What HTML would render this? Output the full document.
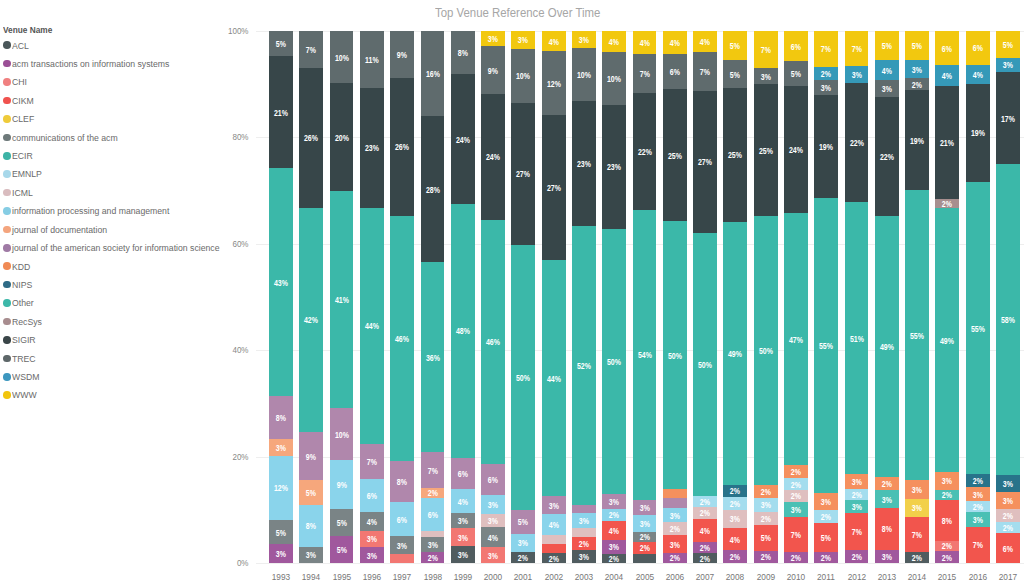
<!DOCTYPE html>
<html><head><meta charset="utf-8"><style>
html,body{margin:0;padding:0;background:#fff;}
body{width:1024px;height:585px;position:relative;overflow:hidden;font-family:"Liberation Sans",sans-serif;}
.s{position:absolute;}
.l{position:absolute;height:12px;line-height:12px;text-align:center;color:#fff;font-weight:bold;font-size:8.5px;transform:scaleX(0.82);}
.xl{position:absolute;top:570px;height:14px;line-height:14px;text-align:center;color:#777;font-size:9.9px;transform:scaleX(0.84);}
.g{position:absolute;left:256px;width:768px;height:1px;background:#eee;}
.yl{position:absolute;left:200px;width:48.5px;text-align:right;height:14px;line-height:14px;color:#888;font-size:9.8px;transform:scaleX(0.82);transform-origin:right center;}
.lc{position:absolute;left:3.3px;width:7.6px;height:7.6px;border-radius:50%;}
.lt{position:absolute;left:12px;height:14px;line-height:14px;color:#6a6a6a;font-size:9.6px;white-space:nowrap;transform:scaleX(0.905);transform-origin:left center;}
.hd{position:absolute;left:2.8px;top:23px;height:14px;line-height:14px;color:#555;font-weight:bold;font-size:9px;white-space:nowrap;transform:scaleX(0.92);transform-origin:left center;}
.title{position:absolute;left:434.6px;top:3.9px;height:18px;line-height:18px;color:#a6a6a6;font-size:12.3px;white-space:nowrap;transform:scaleX(0.927);transform-origin:left center;}
</style></head><body>
<div class="title">Top Venue Reference Over Time</div>
<div class="hd">Venue Name</div>
<div class="lc" style="top:41.40px;background:#4B575A"></div><div class="lt" style="top:38.50px">ACL</div><div class="lc" style="top:59.82px;background:#9B4F96"></div><div class="lt" style="top:56.92px">acm transactions on information systems</div><div class="lc" style="top:78.24px;background:#F08080"></div><div class="lt" style="top:75.34px">CHI</div><div class="lc" style="top:96.66px;background:#F0524E"></div><div class="lt" style="top:93.76px">CIKM</div><div class="lc" style="top:115.08px;background:#EFCB3A"></div><div class="lt" style="top:112.18px">CLEF</div><div class="lc" style="top:133.50px;background:#6E797A"></div><div class="lt" style="top:130.60px">communications of the acm</div><div class="lc" style="top:151.92px;background:#3DB3A6"></div><div class="lt" style="top:149.02px">ECIR</div><div class="lc" style="top:170.34px;background:#A8D8EA"></div><div class="lt" style="top:167.44px">EMNLP</div><div class="lc" style="top:188.76px;background:#D9BCBF"></div><div class="lt" style="top:185.86px">ICML</div><div class="lc" style="top:207.18px;background:#86CDE4"></div><div class="lt" style="top:204.28px">information processing and management</div><div class="lc" style="top:225.60px;background:#F4A57E"></div><div class="lt" style="top:222.70px">journal of documentation</div><div class="lc" style="top:244.02px;background:#9F7AA5"></div><div class="lt" style="top:241.12px">journal of the american society for information science</div><div class="lc" style="top:262.44px;background:#F08A55"></div><div class="lt" style="top:259.54px">KDD</div><div class="lc" style="top:280.86px;background:#2F6B86"></div><div class="lt" style="top:277.96px">NIPS</div><div class="lc" style="top:299.28px;background:#3DB8A9"></div><div class="lt" style="top:296.38px">Other</div><div class="lc" style="top:317.70px;background:#A88D8F"></div><div class="lt" style="top:314.80px">RecSys</div><div class="lc" style="top:336.12px;background:#3A4548"></div><div class="lt" style="top:333.22px">SIGIR</div><div class="lc" style="top:354.54px;background:#5E6769"></div><div class="lt" style="top:351.64px">TREC</div><div class="lc" style="top:372.96px;background:#3D97BF"></div><div class="lt" style="top:370.06px">WSDM</div><div class="lc" style="top:391.38px;background:#F1C50E"></div><div class="lt" style="top:388.48px">WWW</div>
<div class="g" style="top:31.00px"></div><div class="yl" style="top:24.00px">100%</div><div class="g" style="top:137.40px"></div><div class="yl" style="top:130.40px">80%</div><div class="g" style="top:243.80px"></div><div class="yl" style="top:236.80px">60%</div><div class="g" style="top:350.20px"></div><div class="yl" style="top:343.20px">40%</div><div class="g" style="top:456.60px"></div><div class="yl" style="top:449.60px">20%</div><div class="g" style="top:563.00px"></div><div class="yl" style="top:556.00px">0%</div>
<div class="s" style="left:269.10px;top:31.00px;width:23.8px;height:532.30px;background:#5F6B6D"></div><div class="l" style="left:269.10px;top:38.10px;width:23.8px">5%</div><div class="s" style="left:269.10px;top:56.00px;width:23.8px;height:507.30px;background:#374649"></div><div class="l" style="left:269.10px;top:106.60px;width:23.8px">21%</div><div class="s" style="left:269.10px;top:168.00px;width:23.8px;height:395.30px;background:#3BB8A9"></div><div class="l" style="left:269.10px;top:276.73px;width:23.8px">43%</div><div class="s" style="left:269.10px;top:396.25px;width:23.8px;height:167.05px;background:#B087AC"></div><div class="l" style="left:269.10px;top:412.35px;width:23.8px">8%</div><div class="s" style="left:269.10px;top:439.25px;width:23.8px;height:124.05px;background:#F6A77C"></div><div class="l" style="left:269.10px;top:442.10px;width:23.8px">3%</div><div class="s" style="left:269.10px;top:455.75px;width:23.8px;height:107.55px;background:#8AD4EB"></div><div class="l" style="left:269.10px;top:482.48px;width:23.8px">12%</div><div class="s" style="left:269.10px;top:520.00px;width:23.8px;height:43.30px;background:#7A8486"></div><div class="l" style="left:269.10px;top:526.73px;width:23.8px">5%</div><div class="s" style="left:269.10px;top:544.25px;width:23.8px;height:19.05px;background:#A0589D"></div><div class="l" style="left:269.10px;top:548.23px;width:23.8px">3%</div><div class="xl" style="left:261.10px;width:39.8px">1993</div><div class="s" style="left:299.39px;top:31.00px;width:23.8px;height:532.30px;background:#5F6B6D"></div><div class="l" style="left:299.39px;top:44.15px;width:23.8px">7%</div><div class="s" style="left:299.39px;top:68.10px;width:23.8px;height:495.20px;background:#374649"></div><div class="l" style="left:299.39px;top:132.40px;width:23.8px">26%</div><div class="s" style="left:299.39px;top:207.50px;width:23.8px;height:355.80px;background:#3BB8A9"></div><div class="l" style="left:299.39px;top:314.48px;width:23.8px">42%</div><div class="s" style="left:299.39px;top:432.25px;width:23.8px;height:131.05px;background:#B087AC"></div><div class="l" style="left:299.39px;top:450.73px;width:23.8px">9%</div><div class="s" style="left:299.39px;top:480.00px;width:23.8px;height:83.30px;background:#F6A77C"></div><div class="l" style="left:299.39px;top:486.85px;width:23.8px">5%</div><div class="s" style="left:299.39px;top:504.50px;width:23.8px;height:58.80px;background:#8AD4EB"></div><div class="l" style="left:299.39px;top:520.23px;width:23.8px">8%</div><div class="s" style="left:299.39px;top:546.75px;width:23.8px;height:16.55px;background:#7A8486"></div><div class="l" style="left:299.39px;top:549.48px;width:23.8px">3%</div><div class="xl" style="left:291.39px;width:39.8px">1994</div><div class="s" style="left:329.68px;top:31.00px;width:23.8px;height:532.30px;background:#5F6B6D"></div><div class="l" style="left:329.68px;top:51.65px;width:23.8px">10%</div><div class="s" style="left:329.68px;top:83.10px;width:23.8px;height:480.20px;background:#374649"></div><div class="l" style="left:329.68px;top:131.53px;width:23.8px">20%</div><div class="s" style="left:329.68px;top:190.75px;width:23.8px;height:372.55px;background:#3BB8A9"></div><div class="l" style="left:329.68px;top:293.98px;width:23.8px">41%</div><div class="s" style="left:329.68px;top:408.00px;width:23.8px;height:155.30px;background:#B087AC"></div><div class="l" style="left:329.68px;top:428.60px;width:23.8px">10%</div><div class="s" style="left:329.68px;top:460.00px;width:23.8px;height:103.30px;background:#8AD4EB"></div><div class="l" style="left:329.68px;top:478.98px;width:23.8px">9%</div><div class="s" style="left:329.68px;top:508.75px;width:23.8px;height:54.55px;background:#7A8486"></div><div class="l" style="left:329.68px;top:517.10px;width:23.8px">5%</div><div class="s" style="left:329.68px;top:536.25px;width:23.8px;height:27.05px;background:#A0589D"></div><div class="l" style="left:329.68px;top:544.23px;width:23.8px">5%</div><div class="xl" style="left:321.68px;width:39.8px">1995</div><div class="s" style="left:359.97px;top:31.00px;width:23.8px;height:532.30px;background:#5F6B6D"></div><div class="l" style="left:359.97px;top:53.85px;width:23.8px">11%</div><div class="s" style="left:359.97px;top:87.50px;width:23.8px;height:475.80px;background:#374649"></div><div class="l" style="left:359.97px;top:142.10px;width:23.8px">23%</div><div class="s" style="left:359.97px;top:207.50px;width:23.8px;height:355.80px;background:#3BB8A9"></div><div class="l" style="left:359.97px;top:320.10px;width:23.8px">44%</div><div class="s" style="left:359.97px;top:443.50px;width:23.8px;height:119.80px;background:#B087AC"></div><div class="l" style="left:359.97px;top:455.73px;width:23.8px">7%</div><div class="s" style="left:359.97px;top:478.75px;width:23.8px;height:84.55px;background:#8AD4EB"></div><div class="l" style="left:359.97px;top:489.98px;width:23.8px">6%</div><div class="s" style="left:359.97px;top:512.00px;width:23.8px;height:51.30px;background:#7A8486"></div><div class="l" style="left:359.97px;top:515.98px;width:23.8px">4%</div><div class="s" style="left:359.97px;top:530.75px;width:23.8px;height:32.55px;background:#F27772"></div><div class="l" style="left:359.97px;top:533.48px;width:23.8px">3%</div><div class="s" style="left:359.97px;top:547.00px;width:23.8px;height:16.30px;background:#A0589D"></div><div class="l" style="left:359.97px;top:549.60px;width:23.8px">3%</div><div class="xl" style="left:351.97px;width:39.8px">1996</div><div class="s" style="left:390.26px;top:31.00px;width:23.8px;height:532.30px;background:#5F6B6D"></div><div class="l" style="left:390.26px;top:49.10px;width:23.8px">9%</div><div class="s" style="left:390.26px;top:78.00px;width:23.8px;height:485.30px;background:#374649"></div><div class="l" style="left:390.26px;top:141.47px;width:23.8px">26%</div><div class="s" style="left:390.26px;top:215.75px;width:23.8px;height:347.55px;background:#3BB8A9"></div><div class="l" style="left:390.26px;top:332.85px;width:23.8px">46%</div><div class="s" style="left:390.26px;top:460.75px;width:23.8px;height:102.55px;background:#B087AC"></div><div class="l" style="left:390.26px;top:475.98px;width:23.8px">8%</div><div class="s" style="left:390.26px;top:502.00px;width:23.8px;height:61.30px;background:#8AD4EB"></div><div class="l" style="left:390.26px;top:513.73px;width:23.8px">6%</div><div class="s" style="left:390.26px;top:536.25px;width:23.8px;height:27.05px;background:#7A8486"></div><div class="l" style="left:390.26px;top:539.60px;width:23.8px">3%</div><div class="s" style="left:390.26px;top:553.75px;width:23.8px;height:9.55px;background:#F27772"></div><div class="xl" style="left:382.26px;width:39.8px">1997</div><div class="s" style="left:420.55px;top:31.00px;width:23.8px;height:532.30px;background:#5F6B6D"></div><div class="l" style="left:420.55px;top:67.97px;width:23.8px">16%</div><div class="s" style="left:420.55px;top:115.75px;width:23.8px;height:447.55px;background:#374649"></div><div class="l" style="left:420.55px;top:183.60px;width:23.8px">28%</div><div class="s" style="left:420.55px;top:262.25px;width:23.8px;height:301.05px;background:#3BB8A9"></div><div class="l" style="left:420.55px;top:351.73px;width:23.8px">36%</div><div class="s" style="left:420.55px;top:452.00px;width:23.8px;height:111.30px;background:#B087AC"></div><div class="l" style="left:420.55px;top:464.60px;width:23.8px">7%</div><div class="s" style="left:420.55px;top:488.00px;width:23.8px;height:75.30px;background:#F6A77C"></div><div class="l" style="left:420.55px;top:487.35px;width:23.8px">2%</div><div class="s" style="left:420.55px;top:497.50px;width:23.8px;height:65.80px;background:#8AD4EB"></div><div class="l" style="left:420.55px;top:508.73px;width:23.8px">6%</div><div class="s" style="left:420.55px;top:530.75px;width:23.8px;height:32.55px;background:#DFBFBF"></div><div class="s" style="left:420.55px;top:537.00px;width:23.8px;height:26.30px;background:#7A8486"></div><div class="l" style="left:420.55px;top:539.10px;width:23.8px">3%</div><div class="s" style="left:420.55px;top:552.00px;width:23.8px;height:11.30px;background:#A0589D"></div><div class="l" style="left:420.55px;top:552.10px;width:23.8px">2%</div><div class="xl" style="left:412.55px;width:39.8px">1998</div><div class="s" style="left:450.84px;top:31.00px;width:23.8px;height:532.30px;background:#5F6B6D"></div><div class="l" style="left:450.84px;top:47.23px;width:23.8px">8%</div><div class="s" style="left:450.84px;top:74.25px;width:23.8px;height:489.05px;background:#374649"></div><div class="l" style="left:450.84px;top:133.60px;width:23.8px">24%</div><div class="s" style="left:450.84px;top:203.75px;width:23.8px;height:359.55px;background:#3BB8A9"></div><div class="l" style="left:450.84px;top:325.23px;width:23.8px">48%</div><div class="s" style="left:450.84px;top:457.50px;width:23.8px;height:105.80px;background:#B087AC"></div><div class="l" style="left:450.84px;top:467.98px;width:23.8px">6%</div><div class="s" style="left:450.84px;top:489.25px;width:23.8px;height:74.05px;background:#8AD4EB"></div><div class="l" style="left:450.84px;top:495.73px;width:23.8px">4%</div><div class="s" style="left:450.84px;top:513.00px;width:23.8px;height:50.30px;background:#7A8486"></div><div class="l" style="left:450.84px;top:515.23px;width:23.8px">3%</div><div class="s" style="left:450.84px;top:528.25px;width:23.8px;height:35.05px;background:#F27772"></div><div class="l" style="left:450.84px;top:531.85px;width:23.8px">3%</div><div class="s" style="left:450.84px;top:546.25px;width:23.8px;height:17.05px;background:#505C5F"></div><div class="l" style="left:450.84px;top:549.23px;width:23.8px">3%</div><div class="xl" style="left:442.84px;width:39.8px">1999</div><div class="s" style="left:481.13px;top:31.00px;width:23.8px;height:532.30px;background:#F2C80F"></div><div class="l" style="left:481.13px;top:33.23px;width:23.8px">3%</div><div class="s" style="left:481.13px;top:46.25px;width:23.8px;height:517.05px;background:#5F6B6D"></div><div class="l" style="left:481.13px;top:64.72px;width:23.8px">9%</div><div class="s" style="left:481.13px;top:94.00px;width:23.8px;height:469.30px;background:#374649"></div><div class="l" style="left:481.13px;top:151.35px;width:23.8px">24%</div><div class="s" style="left:481.13px;top:219.50px;width:23.8px;height:343.80px;background:#3BB8A9"></div><div class="l" style="left:481.13px;top:336.48px;width:23.8px">46%</div><div class="s" style="left:481.13px;top:464.25px;width:23.8px;height:99.05px;background:#B087AC"></div><div class="l" style="left:481.13px;top:473.98px;width:23.8px">6%</div><div class="s" style="left:481.13px;top:494.50px;width:23.8px;height:68.80px;background:#8AD4EB"></div><div class="l" style="left:481.13px;top:498.73px;width:23.8px">3%</div><div class="s" style="left:481.13px;top:513.75px;width:23.8px;height:49.55px;background:#DFBFBF"></div><div class="l" style="left:481.13px;top:514.98px;width:23.8px">3%</div><div class="s" style="left:481.13px;top:527.00px;width:23.8px;height:36.30px;background:#7A8486"></div><div class="l" style="left:481.13px;top:531.60px;width:23.8px">4%</div><div class="s" style="left:481.13px;top:547.00px;width:23.8px;height:16.30px;background:#F27772"></div><div class="l" style="left:481.13px;top:549.60px;width:23.8px">3%</div><div class="xl" style="left:473.13px;width:39.8px">2000</div><div class="s" style="left:511.42px;top:31.00px;width:23.8px;height:532.30px;background:#F2C80F"></div><div class="l" style="left:511.42px;top:34.48px;width:23.8px">3%</div><div class="s" style="left:511.42px;top:48.75px;width:23.8px;height:514.55px;background:#5F6B6D"></div><div class="l" style="left:511.42px;top:70.47px;width:23.8px">10%</div><div class="s" style="left:511.42px;top:103.00px;width:23.8px;height:460.30px;background:#374649"></div><div class="l" style="left:511.42px;top:168.35px;width:23.8px">27%</div><div class="s" style="left:511.42px;top:244.50px;width:23.8px;height:318.80px;background:#3BB8A9"></div><div class="l" style="left:511.42px;top:371.80px;width:23.8px">50%</div><div class="s" style="left:511.42px;top:509.90px;width:23.8px;height:53.40px;background:#B087AC"></div><div class="l" style="left:511.42px;top:516.30px;width:23.8px">5%</div><div class="s" style="left:511.42px;top:533.50px;width:23.8px;height:29.80px;background:#8AD4EB"></div><div class="l" style="left:511.42px;top:537.10px;width:23.8px">3%</div><div class="s" style="left:511.42px;top:551.50px;width:23.8px;height:11.80px;background:#505C5F"></div><div class="l" style="left:511.42px;top:551.85px;width:23.8px">2%</div><div class="xl" style="left:503.42px;width:39.8px">2001</div><div class="s" style="left:541.71px;top:31.00px;width:23.8px;height:532.30px;background:#F2C80F"></div><div class="l" style="left:541.71px;top:35.73px;width:23.8px">4%</div><div class="s" style="left:541.71px;top:51.25px;width:23.8px;height:512.05px;background:#5F6B6D"></div><div class="l" style="left:541.71px;top:77.72px;width:23.8px">12%</div><div class="s" style="left:541.71px;top:115.00px;width:23.8px;height:448.30px;background:#374649"></div><div class="l" style="left:541.71px;top:182.10px;width:23.8px">27%</div><div class="s" style="left:541.71px;top:260.00px;width:23.8px;height:303.30px;background:#3BB8A9"></div><div class="l" style="left:541.71px;top:372.60px;width:23.8px">44%</div><div class="s" style="left:541.71px;top:496.00px;width:23.8px;height:67.30px;background:#B087AC"></div><div class="l" style="left:541.71px;top:499.60px;width:23.8px">3%</div><div class="s" style="left:541.71px;top:514.00px;width:23.8px;height:49.30px;background:#8AD4EB"></div><div class="l" style="left:541.71px;top:518.98px;width:23.8px">4%</div><div class="s" style="left:541.71px;top:534.75px;width:23.8px;height:28.55px;background:#DFBFBF"></div><div class="s" style="left:541.71px;top:544.00px;width:23.8px;height:19.30px;background:#F2554D"></div><div class="s" style="left:541.71px;top:553.25px;width:23.8px;height:10.05px;background:#505C5F"></div><div class="l" style="left:541.71px;top:552.73px;width:23.8px">2%</div><div class="xl" style="left:533.71px;width:39.8px">2002</div><div class="s" style="left:572.00px;top:31.00px;width:23.8px;height:532.30px;background:#F2C80F"></div><div class="l" style="left:572.00px;top:34.10px;width:23.8px">3%</div><div class="s" style="left:572.00px;top:48.00px;width:23.8px;height:515.30px;background:#5F6B6D"></div><div class="l" style="left:572.00px;top:69.22px;width:23.8px">10%</div><div class="s" style="left:572.00px;top:101.25px;width:23.8px;height:462.05px;background:#374649"></div><div class="l" style="left:572.00px;top:157.97px;width:23.8px">23%</div><div class="s" style="left:572.00px;top:225.50px;width:23.8px;height:337.80px;background:#3BB8A9"></div><div class="l" style="left:572.00px;top:359.65px;width:23.8px">52%</div><div class="s" style="left:572.00px;top:504.60px;width:23.8px;height:58.70px;background:#B087AC"></div><div class="s" style="left:572.00px;top:513.10px;width:23.8px;height:50.20px;background:#8AD4EB"></div><div class="l" style="left:572.00px;top:515.27px;width:23.8px">3%</div><div class="s" style="left:572.00px;top:528.25px;width:23.8px;height:35.05px;background:#DFBFBF"></div><div class="s" style="left:572.00px;top:536.50px;width:23.8px;height:26.80px;background:#F2554D"></div><div class="l" style="left:572.00px;top:537.73px;width:23.8px">2%</div><div class="s" style="left:572.00px;top:549.75px;width:23.8px;height:13.55px;background:#505C5F"></div><div class="l" style="left:572.00px;top:550.98px;width:23.8px">3%</div><div class="xl" style="left:564.00px;width:39.8px">2003</div><div class="s" style="left:602.29px;top:31.00px;width:23.8px;height:532.30px;background:#F2C80F"></div><div class="l" style="left:602.29px;top:36.10px;width:23.8px">4%</div><div class="s" style="left:602.29px;top:52.00px;width:23.8px;height:511.30px;background:#5F6B6D"></div><div class="l" style="left:602.29px;top:72.85px;width:23.8px">10%</div><div class="s" style="left:602.29px;top:104.50px;width:23.8px;height:458.80px;background:#374649"></div><div class="l" style="left:602.29px;top:161.47px;width:23.8px">23%</div><div class="s" style="left:602.29px;top:229.25px;width:23.8px;height:334.05px;background:#3BB8A9"></div><div class="l" style="left:602.29px;top:356.28px;width:23.8px">50%</div><div class="s" style="left:602.29px;top:494.10px;width:23.8px;height:69.20px;background:#B087AC"></div><div class="l" style="left:602.29px;top:496.10px;width:23.8px">3%</div><div class="s" style="left:602.29px;top:508.90px;width:23.8px;height:54.40px;background:#8AD4EB"></div><div class="l" style="left:602.29px;top:509.35px;width:23.8px">2%</div><div class="s" style="left:602.29px;top:520.60px;width:23.8px;height:42.70px;background:#F2554D"></div><div class="l" style="left:602.29px;top:524.77px;width:23.8px">4%</div><div class="s" style="left:602.29px;top:539.75px;width:23.8px;height:23.55px;background:#A0589D"></div><div class="l" style="left:602.29px;top:541.48px;width:23.8px">3%</div><div class="s" style="left:602.29px;top:554.00px;width:23.8px;height:9.30px;background:#505C5F"></div><div class="l" style="left:602.29px;top:553.10px;width:23.8px">2%</div><div class="xl" style="left:594.29px;width:39.8px">2004</div><div class="s" style="left:632.58px;top:31.00px;width:23.8px;height:532.30px;background:#F2C80F"></div><div class="l" style="left:632.58px;top:37.23px;width:23.8px">4%</div><div class="s" style="left:632.58px;top:54.25px;width:23.8px;height:509.05px;background:#5F6B6D"></div><div class="l" style="left:632.58px;top:68.22px;width:23.8px">7%</div><div class="s" style="left:632.58px;top:93.00px;width:23.8px;height:470.30px;background:#374649"></div><div class="l" style="left:632.58px;top:146.10px;width:23.8px">22%</div><div class="s" style="left:632.58px;top:210.00px;width:23.8px;height:353.30px;background:#3BB8A9"></div><div class="l" style="left:632.58px;top:349.40px;width:23.8px">54%</div><div class="s" style="left:632.58px;top:499.60px;width:23.8px;height:63.70px;background:#B087AC"></div><div class="l" style="left:632.58px;top:501.95px;width:23.8px">3%</div><div class="s" style="left:632.58px;top:515.10px;width:23.8px;height:48.20px;background:#8AD4EB"></div><div class="l" style="left:632.58px;top:518.15px;width:23.8px">3%</div><div class="s" style="left:632.58px;top:532.00px;width:23.8px;height:31.30px;background:#7A8486"></div><div class="l" style="left:632.58px;top:531.35px;width:23.8px">2%</div><div class="s" style="left:632.58px;top:541.50px;width:23.8px;height:21.80px;background:#F2554D"></div><div class="l" style="left:632.58px;top:542.35px;width:23.8px">2%</div><div class="s" style="left:632.58px;top:554.00px;width:23.8px;height:9.30px;background:#505C5F"></div><div class="xl" style="left:624.58px;width:39.8px">2005</div><div class="s" style="left:662.87px;top:31.00px;width:23.8px;height:532.30px;background:#F2C80F"></div><div class="l" style="left:662.87px;top:37.23px;width:23.8px">4%</div><div class="s" style="left:662.87px;top:54.25px;width:23.8px;height:509.05px;background:#5F6B6D"></div><div class="l" style="left:662.87px;top:66.10px;width:23.8px">6%</div><div class="s" style="left:662.87px;top:88.75px;width:23.8px;height:474.55px;background:#374649"></div><div class="l" style="left:662.87px;top:149.60px;width:23.8px">25%</div><div class="s" style="left:662.87px;top:221.25px;width:23.8px;height:342.05px;background:#3BB8A9"></div><div class="l" style="left:662.87px;top:349.53px;width:23.8px">50%</div><div class="s" style="left:662.87px;top:488.60px;width:23.8px;height:74.70px;background:#F5905E"></div><div class="s" style="left:662.87px;top:498.40px;width:23.8px;height:64.90px;background:#B087AC"></div><div class="s" style="left:662.87px;top:507.60px;width:23.8px;height:55.70px;background:#8AD4EB"></div><div class="l" style="left:662.87px;top:509.60px;width:23.8px">3%</div><div class="s" style="left:662.87px;top:522.40px;width:23.8px;height:40.90px;background:#DFBFBF"></div><div class="l" style="left:662.87px;top:523.43px;width:23.8px">2%</div><div class="s" style="left:662.87px;top:535.25px;width:23.8px;height:28.05px;background:#F2554D"></div><div class="l" style="left:662.87px;top:538.60px;width:23.8px">3%</div><div class="s" style="left:662.87px;top:552.75px;width:23.8px;height:10.55px;background:#A0589D"></div><div class="l" style="left:662.87px;top:552.48px;width:23.8px">2%</div><div class="xl" style="left:654.87px;width:39.8px">2006</div><div class="s" style="left:693.16px;top:31.00px;width:23.8px;height:532.30px;background:#F2C80F"></div><div class="l" style="left:693.16px;top:35.98px;width:23.8px">4%</div><div class="s" style="left:693.16px;top:51.75px;width:23.8px;height:511.55px;background:#5F6B6D"></div><div class="l" style="left:693.16px;top:65.85px;width:23.8px">7%</div><div class="s" style="left:693.16px;top:90.75px;width:23.8px;height:472.55px;background:#374649"></div><div class="l" style="left:693.16px;top:156.22px;width:23.8px">27%</div><div class="s" style="left:693.16px;top:232.50px;width:23.8px;height:330.80px;background:#3BB8A9"></div><div class="l" style="left:693.16px;top:358.90px;width:23.8px">50%</div><div class="s" style="left:693.16px;top:496.10px;width:23.8px;height:67.20px;background:#A4DDEE"></div><div class="l" style="left:693.16px;top:496.03px;width:23.8px">2%</div><div class="s" style="left:693.16px;top:506.75px;width:23.8px;height:56.55px;background:#DFBFBF"></div><div class="l" style="left:693.16px;top:507.43px;width:23.8px">2%</div><div class="s" style="left:693.16px;top:518.90px;width:23.8px;height:44.40px;background:#F2554D"></div><div class="l" style="left:693.16px;top:524.80px;width:23.8px">4%</div><div class="s" style="left:693.16px;top:541.50px;width:23.8px;height:21.80px;background:#A0589D"></div><div class="l" style="left:693.16px;top:541.98px;width:23.8px">2%</div><div class="s" style="left:693.16px;top:553.25px;width:23.8px;height:10.05px;background:#505C5F"></div><div class="l" style="left:693.16px;top:552.73px;width:23.8px">2%</div><div class="xl" style="left:685.16px;width:39.8px">2007</div><div class="s" style="left:723.45px;top:31.00px;width:23.8px;height:532.30px;background:#F2C80F"></div><div class="l" style="left:723.45px;top:40.23px;width:23.8px">5%</div><div class="s" style="left:723.45px;top:60.25px;width:23.8px;height:503.05px;background:#5F6B6D"></div><div class="l" style="left:723.45px;top:68.67px;width:23.8px">5%</div><div class="s" style="left:723.45px;top:87.90px;width:23.8px;height:475.40px;background:#374649"></div><div class="l" style="left:723.45px;top:149.42px;width:23.8px">25%</div><div class="s" style="left:723.45px;top:221.75px;width:23.8px;height:341.55px;background:#3BB8A9"></div><div class="l" style="left:723.45px;top:347.93px;width:23.8px">49%</div><div class="s" style="left:723.45px;top:484.90px;width:23.8px;height:78.40px;background:#28738A"></div><div class="l" style="left:723.45px;top:485.35px;width:23.8px">2%</div><div class="s" style="left:723.45px;top:496.60px;width:23.8px;height:66.70px;background:#A4DDEE"></div><div class="l" style="left:723.45px;top:497.85px;width:23.8px">2%</div><div class="s" style="left:723.45px;top:509.90px;width:23.8px;height:53.40px;background:#DFBFBF"></div><div class="l" style="left:723.45px;top:513.43px;width:23.8px">3%</div><div class="s" style="left:723.45px;top:527.75px;width:23.8px;height:35.55px;background:#F2554D"></div><div class="l" style="left:723.45px;top:533.60px;width:23.8px">4%</div><div class="s" style="left:723.45px;top:550.25px;width:23.8px;height:13.05px;background:#A0589D"></div><div class="l" style="left:723.45px;top:551.23px;width:23.8px">2%</div><div class="xl" style="left:715.45px;width:39.8px">2008</div><div class="s" style="left:753.74px;top:31.00px;width:23.8px;height:532.30px;background:#F2C80F"></div><div class="l" style="left:753.74px;top:44.05px;width:23.8px">7%</div><div class="s" style="left:753.74px;top:67.90px;width:23.8px;height:495.40px;background:#5F6B6D"></div><div class="l" style="left:753.74px;top:70.60px;width:23.8px">3%</div><div class="s" style="left:753.74px;top:84.10px;width:23.8px;height:479.20px;background:#374649"></div><div class="l" style="left:753.74px;top:144.53px;width:23.8px">25%</div><div class="s" style="left:753.74px;top:215.75px;width:23.8px;height:347.55px;background:#3BB8A9"></div><div class="l" style="left:753.74px;top:344.85px;width:23.8px">50%</div><div class="s" style="left:753.74px;top:484.75px;width:23.8px;height:78.55px;background:#F5905E"></div><div class="l" style="left:753.74px;top:485.85px;width:23.8px">2%</div><div class="s" style="left:753.74px;top:497.75px;width:23.8px;height:65.55px;background:#A4DDEE"></div><div class="l" style="left:753.74px;top:499.48px;width:23.8px">3%</div><div class="s" style="left:753.74px;top:512.00px;width:23.8px;height:51.30px;background:#DFBFBF"></div><div class="l" style="left:753.74px;top:512.98px;width:23.8px">2%</div><div class="s" style="left:753.74px;top:524.75px;width:23.8px;height:38.55px;background:#F2554D"></div><div class="l" style="left:753.74px;top:532.35px;width:23.8px">5%</div><div class="s" style="left:753.74px;top:550.75px;width:23.8px;height:12.55px;background:#A0589D"></div><div class="l" style="left:753.74px;top:551.48px;width:23.8px">2%</div><div class="xl" style="left:745.74px;width:39.8px">2009</div><div class="s" style="left:784.03px;top:31.00px;width:23.8px;height:532.30px;background:#F2C80F"></div><div class="l" style="left:784.03px;top:40.60px;width:23.8px">6%</div><div class="s" style="left:784.03px;top:61.00px;width:23.8px;height:502.30px;background:#5F6B6D"></div><div class="l" style="left:784.03px;top:68.22px;width:23.8px">5%</div><div class="s" style="left:784.03px;top:86.25px;width:23.8px;height:477.05px;background:#374649"></div><div class="l" style="left:784.03px;top:144.22px;width:23.8px">24%</div><div class="s" style="left:784.03px;top:213.00px;width:23.8px;height:350.30px;background:#3BB8A9"></div><div class="l" style="left:784.03px;top:333.73px;width:23.8px">47%</div><div class="s" style="left:784.03px;top:465.25px;width:23.8px;height:98.05px;background:#F5905E"></div><div class="l" style="left:784.03px;top:466.35px;width:23.8px">2%</div><div class="s" style="left:784.03px;top:478.25px;width:23.8px;height:85.05px;background:#A4DDEE"></div><div class="l" style="left:784.03px;top:478.85px;width:23.8px">2%</div><div class="s" style="left:784.03px;top:490.25px;width:23.8px;height:73.05px;background:#DFBFBF"></div><div class="l" style="left:784.03px;top:490.48px;width:23.8px">2%</div><div class="s" style="left:784.03px;top:501.50px;width:23.8px;height:61.80px;background:#4AC0B4"></div><div class="l" style="left:784.03px;top:503.85px;width:23.8px">3%</div><div class="s" style="left:784.03px;top:517.00px;width:23.8px;height:46.30px;background:#F2554D"></div><div class="l" style="left:784.03px;top:528.85px;width:23.8px">7%</div><div class="s" style="left:784.03px;top:551.50px;width:23.8px;height:11.80px;background:#A0589D"></div><div class="l" style="left:784.03px;top:551.85px;width:23.8px">2%</div><div class="xl" style="left:776.03px;width:39.8px">2010</div><div class="s" style="left:814.32px;top:31.00px;width:23.8px;height:532.30px;background:#F2C80F"></div><div class="l" style="left:814.32px;top:43.48px;width:23.8px">7%</div><div class="s" style="left:814.32px;top:66.75px;width:23.8px;height:496.55px;background:#3599B8"></div><div class="l" style="left:814.32px;top:67.97px;width:23.8px">2%</div><div class="s" style="left:814.32px;top:80.00px;width:23.8px;height:483.30px;background:#5F6B6D"></div><div class="l" style="left:814.32px;top:82.10px;width:23.8px">3%</div><div class="s" style="left:814.32px;top:95.00px;width:23.8px;height:468.30px;background:#374649"></div><div class="l" style="left:814.32px;top:140.85px;width:23.8px">19%</div><div class="s" style="left:814.32px;top:197.50px;width:23.8px;height:365.80px;background:#3BB8A9"></div><div class="l" style="left:814.32px;top:339.73px;width:23.8px">55%</div><div class="s" style="left:814.32px;top:492.75px;width:23.8px;height:70.55px;background:#F5905E"></div><div class="l" style="left:814.32px;top:495.85px;width:23.8px">3%</div><div class="s" style="left:814.32px;top:509.75px;width:23.8px;height:53.55px;background:#A4DDEE"></div><div class="l" style="left:814.32px;top:511.10px;width:23.8px">2%</div><div class="s" style="left:814.32px;top:523.25px;width:23.8px;height:40.05px;background:#F2554D"></div><div class="l" style="left:814.32px;top:532.23px;width:23.8px">5%</div><div class="s" style="left:814.32px;top:552.00px;width:23.8px;height:11.30px;background:#A0589D"></div><div class="l" style="left:814.32px;top:552.10px;width:23.8px">2%</div><div class="xl" style="left:806.32px;width:39.8px">2011</div><div class="s" style="left:844.61px;top:31.00px;width:23.8px;height:532.30px;background:#F2C80F"></div><div class="l" style="left:844.61px;top:43.23px;width:23.8px">7%</div><div class="s" style="left:844.61px;top:66.25px;width:23.8px;height:497.05px;background:#3599B8"></div><div class="l" style="left:844.61px;top:69.22px;width:23.8px">3%</div><div class="s" style="left:844.61px;top:83.00px;width:23.8px;height:480.30px;background:#374649"></div><div class="l" style="left:844.61px;top:137.10px;width:23.8px">22%</div><div class="s" style="left:844.61px;top:202.00px;width:23.8px;height:361.30px;background:#3BB8A9"></div><div class="l" style="left:844.61px;top:332.60px;width:23.8px">51%</div><div class="s" style="left:844.61px;top:474.00px;width:23.8px;height:89.30px;background:#F5905E"></div><div class="l" style="left:844.61px;top:475.85px;width:23.8px">3%</div><div class="s" style="left:844.61px;top:488.50px;width:23.8px;height:74.80px;background:#A4DDEE"></div><div class="l" style="left:844.61px;top:488.73px;width:23.8px">2%</div><div class="s" style="left:844.61px;top:499.75px;width:23.8px;height:63.55px;background:#4AC0B4"></div><div class="l" style="left:844.61px;top:500.85px;width:23.8px">3%</div><div class="s" style="left:844.61px;top:512.75px;width:23.8px;height:50.55px;background:#F2554D"></div><div class="l" style="left:844.61px;top:526.10px;width:23.8px">7%</div><div class="s" style="left:844.61px;top:550.25px;width:23.8px;height:13.05px;background:#A0589D"></div><div class="l" style="left:844.61px;top:551.23px;width:23.8px">2%</div><div class="xl" style="left:836.61px;width:39.8px">2012</div><div class="s" style="left:874.90px;top:31.00px;width:23.8px;height:532.30px;background:#F2C80F"></div><div class="l" style="left:874.90px;top:40.10px;width:23.8px">5%</div><div class="s" style="left:874.90px;top:60.00px;width:23.8px;height:503.30px;background:#3599B8"></div><div class="l" style="left:874.90px;top:64.60px;width:23.8px">4%</div><div class="s" style="left:874.90px;top:80.00px;width:23.8px;height:483.30px;background:#5F6B6D"></div><div class="l" style="left:874.90px;top:83.10px;width:23.8px">3%</div><div class="s" style="left:874.90px;top:97.00px;width:23.8px;height:466.30px;background:#374649"></div><div class="l" style="left:874.90px;top:150.97px;width:23.8px">22%</div><div class="s" style="left:874.90px;top:215.75px;width:23.8px;height:347.55px;background:#3BB8A9"></div><div class="l" style="left:874.90px;top:340.73px;width:23.8px">49%</div><div class="s" style="left:874.90px;top:476.50px;width:23.8px;height:86.80px;background:#F5905E"></div><div class="l" style="left:874.90px;top:477.98px;width:23.8px">2%</div><div class="s" style="left:874.90px;top:490.25px;width:23.8px;height:73.05px;background:#4AC0B4"></div><div class="l" style="left:874.90px;top:493.60px;width:23.8px">3%</div><div class="s" style="left:874.90px;top:507.75px;width:23.8px;height:55.55px;background:#F2554D"></div><div class="l" style="left:874.90px;top:523.35px;width:23.8px">8%</div><div class="s" style="left:874.90px;top:549.75px;width:23.8px;height:13.55px;background:#A0589D"></div><div class="l" style="left:874.90px;top:550.98px;width:23.8px">3%</div><div class="xl" style="left:866.90px;width:39.8px">2013</div><div class="s" style="left:905.19px;top:31.00px;width:23.8px;height:532.30px;background:#F2C80F"></div><div class="l" style="left:905.19px;top:40.10px;width:23.8px">5%</div><div class="s" style="left:905.19px;top:60.00px;width:23.8px;height:503.30px;background:#3599B8"></div><div class="l" style="left:905.19px;top:63.60px;width:23.8px">3%</div><div class="s" style="left:905.19px;top:78.00px;width:23.8px;height:485.30px;background:#5F6B6D"></div><div class="l" style="left:905.19px;top:78.60px;width:23.8px">2%</div><div class="s" style="left:905.19px;top:90.00px;width:23.8px;height:473.30px;background:#374649"></div><div class="l" style="left:905.19px;top:134.60px;width:23.8px">19%</div><div class="s" style="left:905.19px;top:190.00px;width:23.8px;height:373.30px;background:#3BB8A9"></div><div class="l" style="left:905.19px;top:329.73px;width:23.8px">55%</div><div class="s" style="left:905.19px;top:480.25px;width:23.8px;height:83.05px;background:#F5905E"></div><div class="l" style="left:905.19px;top:483.98px;width:23.8px">3%</div><div class="s" style="left:905.19px;top:498.50px;width:23.8px;height:64.80px;background:#F2D04A"></div><div class="l" style="left:905.19px;top:502.35px;width:23.8px">3%</div><div class="s" style="left:905.19px;top:517.00px;width:23.8px;height:46.30px;background:#F2554D"></div><div class="l" style="left:905.19px;top:528.85px;width:23.8px">7%</div><div class="s" style="left:905.19px;top:551.50px;width:23.8px;height:11.80px;background:#505C5F"></div><div class="l" style="left:905.19px;top:551.85px;width:23.8px">2%</div><div class="xl" style="left:897.19px;width:39.8px">2014</div><div class="s" style="left:935.48px;top:31.00px;width:23.8px;height:532.30px;background:#F2C80F"></div><div class="l" style="left:935.48px;top:42.60px;width:23.8px">6%</div><div class="s" style="left:935.48px;top:65.00px;width:23.8px;height:498.30px;background:#3599B8"></div><div class="l" style="left:935.48px;top:70.22px;width:23.8px">4%</div><div class="s" style="left:935.48px;top:86.25px;width:23.8px;height:477.05px;background:#374649"></div><div class="l" style="left:935.48px;top:137.10px;width:23.8px">21%</div><div class="s" style="left:935.48px;top:198.75px;width:23.8px;height:364.55px;background:#A78F8F"></div><div class="l" style="left:935.48px;top:198.10px;width:23.8px">2%</div><div class="s" style="left:935.48px;top:208.25px;width:23.8px;height:355.05px;background:#3BB8A9"></div><div class="l" style="left:935.48px;top:334.73px;width:23.8px">49%</div><div class="s" style="left:935.48px;top:472.00px;width:23.8px;height:91.30px;background:#F5905E"></div><div class="l" style="left:935.48px;top:475.48px;width:23.8px">3%</div><div class="s" style="left:935.48px;top:489.75px;width:23.8px;height:73.55px;background:#4AC0B4"></div><div class="l" style="left:935.48px;top:489.35px;width:23.8px">2%</div><div class="s" style="left:935.48px;top:499.75px;width:23.8px;height:63.55px;background:#F2554D"></div><div class="l" style="left:935.48px;top:514.85px;width:23.8px">8%</div><div class="s" style="left:935.48px;top:540.75px;width:23.8px;height:22.55px;background:#F27772"></div><div class="l" style="left:935.48px;top:540.48px;width:23.8px">2%</div><div class="s" style="left:935.48px;top:551.00px;width:23.8px;height:12.30px;background:#A0589D"></div><div class="l" style="left:935.48px;top:551.60px;width:23.8px">2%</div><div class="xl" style="left:927.48px;width:39.8px">2015</div><div class="s" style="left:965.77px;top:31.00px;width:23.8px;height:532.30px;background:#F2C80F"></div><div class="l" style="left:965.77px;top:42.35px;width:23.8px">6%</div><div class="s" style="left:965.77px;top:64.50px;width:23.8px;height:498.80px;background:#3599B8"></div><div class="l" style="left:965.77px;top:68.72px;width:23.8px">4%</div><div class="s" style="left:965.77px;top:83.75px;width:23.8px;height:479.55px;background:#374649"></div><div class="l" style="left:965.77px;top:127.47px;width:23.8px">19%</div><div class="s" style="left:965.77px;top:182.00px;width:23.8px;height:381.30px;background:#3BB8A9"></div><div class="l" style="left:965.77px;top:322.60px;width:23.8px">55%</div><div class="s" style="left:965.77px;top:474.00px;width:23.8px;height:89.30px;background:#28738A"></div><div class="l" style="left:965.77px;top:475.23px;width:23.8px">2%</div><div class="s" style="left:965.77px;top:487.25px;width:23.8px;height:76.05px;background:#F5905E"></div><div class="l" style="left:965.77px;top:488.60px;width:23.8px">3%</div><div class="s" style="left:965.77px;top:500.75px;width:23.8px;height:62.55px;background:#A4DDEE"></div><div class="l" style="left:965.77px;top:500.73px;width:23.8px">2%</div><div class="s" style="left:965.77px;top:511.50px;width:23.8px;height:51.80px;background:#4AC0B4"></div><div class="l" style="left:965.77px;top:513.60px;width:23.8px">3%</div><div class="s" style="left:965.77px;top:526.50px;width:23.8px;height:36.80px;background:#F2554D"></div><div class="l" style="left:965.77px;top:539.35px;width:23.8px">7%</div><div class="xl" style="left:957.77px;width:39.8px">2016</div><div class="s" style="left:996.06px;top:31.00px;width:23.8px;height:532.30px;background:#F2C80F"></div><div class="l" style="left:996.06px;top:39.10px;width:23.8px">5%</div><div class="s" style="left:996.06px;top:58.00px;width:23.8px;height:505.30px;background:#3599B8"></div><div class="l" style="left:996.06px;top:59.48px;width:23.8px">3%</div><div class="s" style="left:996.06px;top:71.75px;width:23.8px;height:491.55px;background:#374649"></div><div class="l" style="left:996.06px;top:112.60px;width:23.8px">17%</div><div class="s" style="left:996.06px;top:164.25px;width:23.8px;height:399.05px;background:#3BB8A9"></div><div class="l" style="left:996.06px;top:313.98px;width:23.8px">58%</div><div class="s" style="left:996.06px;top:474.50px;width:23.8px;height:88.80px;background:#28738A"></div><div class="l" style="left:996.06px;top:477.60px;width:23.8px">3%</div><div class="s" style="left:996.06px;top:491.50px;width:23.8px;height:71.80px;background:#F5905E"></div><div class="l" style="left:996.06px;top:494.85px;width:23.8px">3%</div><div class="s" style="left:996.06px;top:509.00px;width:23.8px;height:54.30px;background:#DFBFBF"></div><div class="l" style="left:996.06px;top:509.85px;width:23.8px">2%</div><div class="s" style="left:996.06px;top:521.50px;width:23.8px;height:41.80px;background:#A4DDEE"></div><div class="l" style="left:996.06px;top:521.98px;width:23.8px">2%</div><div class="s" style="left:996.06px;top:533.25px;width:23.8px;height:30.05px;background:#F2554D"></div><div class="l" style="left:996.06px;top:542.73px;width:23.8px">6%</div><div class="xl" style="left:988.06px;width:39.8px">2017</div>
</body></html>
